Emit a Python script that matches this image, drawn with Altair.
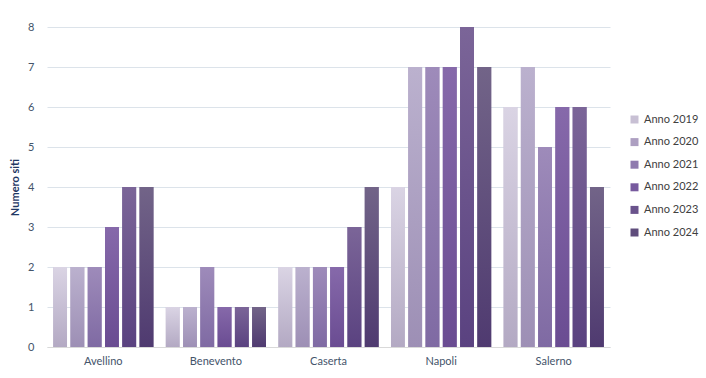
import altair as alt
import pandas as pd

provinces = ["Avellino", "Benevento", "Caserta", "Napoli", "Salerno"]
years = ["Anno 2019", "Anno 2020", "Anno 2021", "Anno 2022", "Anno 2023", "Anno 2024"]
values = {
    "Anno 2019": [2, 1, 2, 4, 6],
    "Anno 2020": [2, 1, 2, 7, 7],
    "Anno 2021": [2, 2, 2, 7, 5],
    "Anno 2022": [3, 1, 2, 7, 6],
    "Anno 2023": [4, 1, 3, 8, 6],
    "Anno 2024": [4, 1, 4, 7, 4],
}
top_colors = ["#dad4e4", "#bbb1ce", "#9e8bba", "#8669aa", "#7b6598", "#726488"]
bottom_colors = ["#b3a9c3", "#9d8fb5", "#7f6aa3", "#6a4c92", "#5a4280", "#4f3a70"]
mid_colors = ["#c8c0d4", "#ad9fc1", "#8f7aae", "#775a9e", "#6a538c", "#5f4d7c"]

rows = []
for y in years:
    for p, v in zip(provinces, values[y]):
        rows.append({"Provincia": p, "Anno": y, "Numero": v})
df = pd.DataFrame(rows)

FONT = "Lato"
xenc = alt.X("Provincia:N", sort=provinces, title=None,
             scale=alt.Scale(paddingInner=0.11, paddingOuter=0.055),
             axis=alt.Axis(labelAngle=0, labelFontSize=11, labelColor="#44546a",
                           labelFont=FONT, labelPadding=8, ticks=False,
                           domainColor="#d9d9d9", domainWidth=1, grid=False))
xoff = alt.XOffset("Anno:N", sort=years, scale=alt.Scale(paddingInner=0.2))
yenc = alt.Y("Numero:Q", scale=alt.Scale(domain=[0, 8]),
             axis=alt.Axis(values=list(range(9)), title="Numero siti",
                           titleFont=FONT, titleFontSize=11, titleFontWeight="bold",
                           titleColor="#1f3864", titlePadding=7,
                           labelFont=FONT, labelFontSize=11, labelColor="#44546a",
                           labelPadding=13, ticks=False, domain=False,
                           gridColor="#dce3ea", gridWidth=1))

base = alt.Chart(df).mark_bar().encode(
    x=xenc, xOffset=xoff, y=yenc,
    color=alt.Color("Anno:N", sort=years,
                    scale=alt.Scale(domain=years, range=mid_colors),
                    legend=alt.Legend(title=None, orient="none", legendX=582, legendY=87,
                                      symbolType="square", symbolSize=64,
                                      symbolStrokeWidth=0,
                                      labelFont=FONT, labelFontSize=11, labelColor="#404040",
                                      rowPadding=10.6, labelOffset=4)),
)

layers = [base]
for i, y in enumerate(years):
    grad = alt.Gradient(gradient="linear",
                        stops=[alt.GradientStop(color=top_colors[i], offset=0),
                               alt.GradientStop(color=bottom_colors[i], offset=1)],
                        x1=0, x2=0, y1=0, y2=1)
    layers.append(
        alt.Chart(df).transform_filter(alt.datum.Anno == y)
        .mark_bar(color=grad)
        .encode(x=xenc, xOffset=xoff, y=yenc)
    )

chart = alt.layer(*layers).properties(
    width=563, height=320,
    padding={"left": 47, "top": 27, "right": 96, "bottom": 31},
    autosize=alt.AutoSizeParams(type="none"),
    background="white",
).configure_view(stroke=None)

chart.save("out.html", embed_options={"renderer": "svg", "actions": False})
